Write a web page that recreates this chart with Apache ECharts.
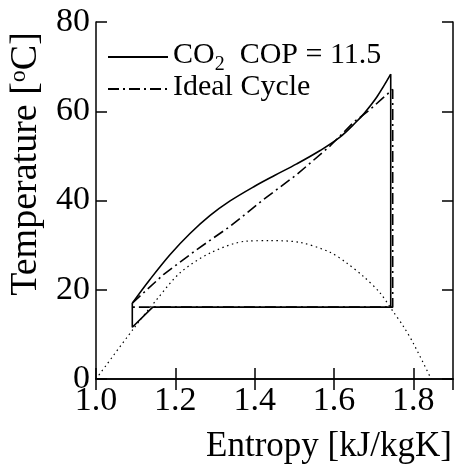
<!DOCTYPE html>
<html>
<head>
<meta charset="utf-8">
<script src="https://cdn.jsdelivr.net/npm/echarts@6/dist/echarts.min.js"></script>
<style>
  html, body { margin: 0; padding: 0; background: #fff; }
  #chart { width: 454px; height: 465px; }
</style>
</head>
<body>
<div id="chart"></div>
<script>
// Saturation dome of CO2 (T-s diagram)
var domeS = [1.0, 1.094, 1.153, 1.212, 1.287, 1.38, 1.44, 1.515, 1.59, 1.632, 1.674, 1.716, 1.75, 1.775, 1.80, 1.845];
var domeT = [0, 11.2, 17.8, 23.8, 28.2, 30.9, 31.0, 30.6, 28.4, 26.0, 23.0, 19.3, 15.0, 11.8, 8.0, 0];

// Transcritical CO2 cycle: gas-cooler curve, then the closing legs
var co2CurveS = [1.0915, 1.136, 1.187, 1.237, 1.287, 1.338, 1.40, 1.45, 1.506, 1.565, 1.615, 1.657, 1.674, 1.708, 1.743];
var co2CurveT = [17.0, 22.3, 27.9, 32.6, 36.6, 39.9, 43.2, 45.6, 48.2, 51.2, 54.2, 57.7, 59.3, 63.2, 68.3];
var co2LegsS = [1.743, 1.743, 1.143, 1.0915, 1.0915];
var co2LegsT = [68.3, 16.1, 16.1, 11.6, 17.0];

// Ideal cycle (closed path)
var idealS = [1.0915, 1.17, 1.254, 1.338, 1.38, 1.422, 1.506, 1.59, 1.649, 1.691, 1.72, 1.748, 1.748, 1.0915, 1.0915];
var idealT = [17.0, 23.4, 29.0, 34.2, 37.2, 40.2, 45.8, 52.2, 57.5, 60.4, 62.7, 64.9, 16.1, 16.1, 17.0];

// Axis settings
var xMin = 1.0, xMax = 1.9, xStep = 0.2;
var yMin = 0, yMax = 80, yStep = 20;

var COP = '11.5';

function pairs(xs, ys) {
  return xs.map(function (x, i) { return [x, ys[i]]; });
}

var FONT = '"Liberation Serif", "Times New Roman", serif';
var chart = echarts.init(document.getElementById('chart'), null, { renderer: 'canvas' });

var axisCommon = {
  type: 'value',
  axisLine: { show: true, lineStyle: { color: '#000', width: 1.5 } },
  axisTick: { show: true, inside: true, length: 11, lineStyle: { color: '#000', width: 1.5 } },
  splitLine: { show: false }
};

chart.setOption({
  animation: false,
  backgroundColor: '#fff',
  textStyle: { fontFamily: FONT },
  grid: { left: 96, right: 1, top: 22, bottom: 86, containLabel: false },
  xAxis: [
    Object.assign({}, axisCommon, {
      position: 'bottom', min: xMin, max: xMax, interval: xStep,
      axisLabel: {
        show: true, margin: 5, color: '#000', fontFamily: FONT, fontSize: 34,
        showMaxLabel: false,
        formatter: function (v) { return v.toFixed(1); }
      }
    }),
    Object.assign({}, axisCommon, {
      position: 'top', min: xMin, max: xMax, interval: xStep,
      axisLabel: { show: false }
    })
  ],
  yAxis: [
    Object.assign({}, axisCommon, {
      position: 'left', min: yMin, max: yMax, interval: yStep,
      axisLabel: { show: true, margin: 6, color: '#000', fontFamily: FONT, fontSize: 34 }
    }),
    Object.assign({}, axisCommon, {
      position: 'right', min: yMin, max: yMax, interval: yStep,
      axisLabel: { show: false }
    })
  ],
  legend: {
    orient: 'vertical',
    left: 102,
    top: 35,
    itemGap: -3,
    itemWidth: 60,
    itemHeight: 14,
    data: ['CO2', 'Ideal Cycle'],
    itemStyle: { opacity: 0 },
    formatter: function (name) {
      if (name === 'CO2') return '{n|CO}{s|2}{n|  COP = ' + COP + '}';
      return '{n|' + name + '}';
    },
    textStyle: {
      color: '#000',
      fontFamily: FONT,
      fontSize: 30,
      rich: {
        n: { fontFamily: FONT, fontSize: 30, color: '#000', verticalAlign: 'bottom', lineHeight: 26 },
        s: { fontFamily: FONT, fontSize: 20, color: '#000', verticalAlign: 'bottom', lineHeight: 26, padding: [0, 0, -5, 0] }
      }
    }
  },
  graphic: [
    {
      type: 'text',
      right: 2,
      top: 429,
      style: { text: 'Entropy [kJ/kgK]', font: '35px ' + FONT, fill: '#000' }
    },
    {
      type: 'text',
      x: 26,
      y: 164,
      rotation: Math.PI / 2,
      style: {
        text: '{a|Temperature [}{s|o}{a|C]}',
        align: 'center',
        verticalAlign: 'middle',
        fill: '#000',
        rich: {
          a: { fontFamily: FONT, fontSize: 38, fill: '#000', verticalAlign: 'bottom', lineHeight: 38 },
          s: { fontFamily: FONT, fontSize: 24, fill: '#000', verticalAlign: 'top', lineHeight: 38 }
        }
      }
    }
  ],
  series: [
    {
      name: 'Saturation',
      type: 'line',
      data: pairs(domeS, domeT),
      symbol: 'none',
      smooth: 0.3,
      lineStyle: { color: '#000', width: 1.2, type: [1.5, 3.5] },
      silent: true
    },
    {
      name: 'Ideal Cycle',
      type: 'line',
      data: pairs(idealS, idealT),
      symbol: 'none',
      itemStyle: { color: '#000' },
      lineStyle: { color: '#000', width: 1.6, type: [11, 4, 2, 4] }
    },
    {
      name: 'CO2',
      type: 'line',
      data: pairs(co2CurveS, co2CurveT),
      symbol: 'none',
      smooth: 0.35,
      itemStyle: { color: '#000' },
      lineStyle: { color: '#000', width: 1.6 }
    },
    {
      name: 'CO2',
      type: 'line',
      data: pairs(co2LegsS, co2LegsT),
      symbol: 'none',
      itemStyle: { color: '#000' },
      lineStyle: { color: '#000', width: 1.6 }
    }
  ]
});
</script>
</body>
</html>
